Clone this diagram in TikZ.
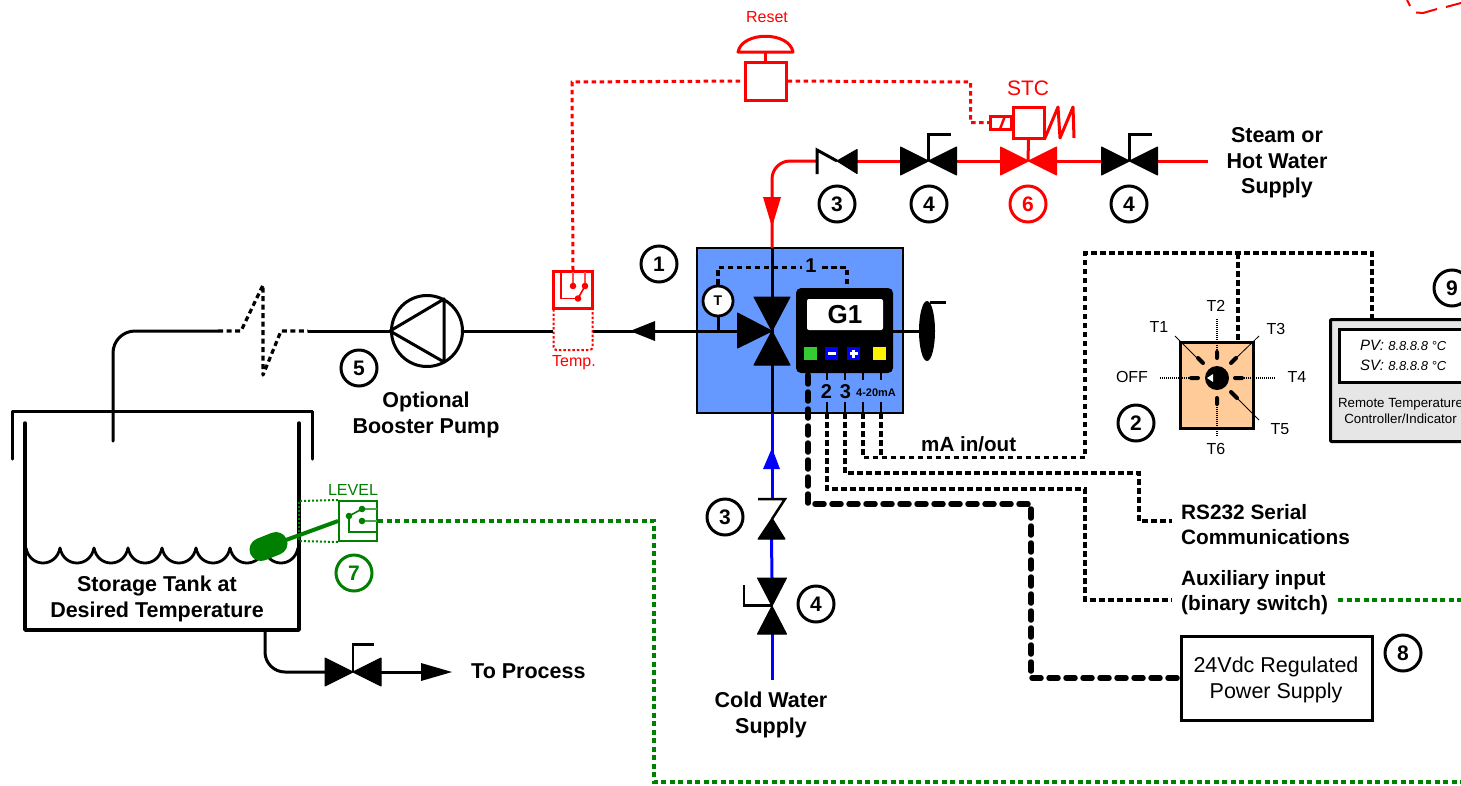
\documentclass[tikz,border=0pt]{standalone}
\usepackage{fontspec}
\setmainfont{Liberation Sans}
\usetikzlibrary{calc}
\definecolor{boxblue}{RGB}{102,153,255}
\definecolor{peach}{RGB}{255,204,153}
\definecolor{lvlgreen}{RGB}{0,128,0}
\definecolor{panelgrey}{RGB}{230,230,230}
\definecolor{btngreen}{RGB}{51,204,51}
\tikzset{
 pipe/.style={line width=3pt,line join=round},
 redpipe/.style={pipe,red},
 bluepipe/.style={pipe,blue},
 wire/.style={line width=3.1pt,dash pattern=on 5.5pt off 3.5pt},
 thickwire/.style={line width=5.5pt,dash pattern=on 9pt off 8pt,line cap=round},
 redwire/.style={line width=3pt,red,dash pattern=on 4.5pt off 3.5pt},
 greenwire/.style={line width=3.1pt,lvlgreen,dash pattern=on 5pt off 3.5pt},
 lab/.style={font=\fontsize{21.5}{25.7}\selectfont\bfseries,align=center,inner sep=0pt},
 leftlab/.style={font=\fontsize{20.8}{25.5}\selectfont\bfseries,inner sep=0pt,align=left},
 small/.style={font=\fontsize{16}{17}\selectfont,inner sep=0pt},
 numc/.style={circle,draw=#1,text=#1,line width=3pt,minimum size=36pt,inner sep=0pt,font=\fontsize{21}{24}\selectfont\bfseries},
 numc/.default=black,
 ray/.style={line width=0.8pt},
 rayd/.style={line width=1.1pt,dash pattern=on 1pt off 1pt},
 tick/.style={line width=4pt,line cap=round},
 btn/.style={minimum width=13pt,minimum height=13pt,inner sep=0pt},
}
\newcommand{\bowH}[5][black]{\path[fill=#1,draw=#1,line width=1pt,line join=round] (#2,#3) -- (#2-#4,#3-#5) -- (#2-#4,#3+#5) -- cycle (#2,#3) -- (#2+#4,#3-#5) -- (#2+#4,#3+#5) -- cycle;}
\newcommand{\bowV}[5][black]{\path[fill=#1,draw=#1,line width=1pt,line join=round] (#2,#3) -- (#2-#4,#3-#5) -- (#2+#4,#3-#5) -- cycle (#2,#3) -- (#2-#4,#3+#5) -- (#2+#4,#3+#5) -- cycle;}
\begin{document}
\begin{tikzpicture}[x=1pt,y=-1pt]
\clip (0,0) rectangle (1461,785);
\fill[white] (0,0) rectangle (1461,785);

% ---------- fragment top right
\draw[red,line width=2pt] (1407,0)--(1410,6) (1416,12.5)--(1423,13)--(1437,9) (1446,7)--(1461,3);

% ---------- storage tank
\draw[pipe,line cap=round] (12,459)--(12,411)--(312,411)--(312,459);
\draw[line width=3.5pt,line join=round,line cap=round] (25,423)--(25,630)--(299,630)--(299,423);
\foreach \x in {26,60,94,128,162,196,230,264}
  \draw[line width=2.8pt,line cap=round] (\x,548) .. controls (\x+4,568) and (\x+30,568) .. (\x+34,548);
\node[lab] (tanklab) at (157,599) {Storage Tank at\\Desired Temperature};

% ---------- pipe to tank
\coordinate (tankin) at (113,441);
\coordinate (brkw) at (218,331);
\coordinate (brke) at (308,331);
\draw[pipe,line cap=round,rounded corners=22pt] (tankin)--(113,331)--(brkw);
\draw[line width=3.2pt,dash pattern=on 5pt off 3.5pt,line join=round] (brkw)--(241,331)--(263,285)--(263,375)--(281,331)--(brke);

% ---------- pump
\node[circle,draw,line width=3pt,minimum size=71pt,inner sep=0pt] (pump) at (427,331) {};
\draw[line width=3pt,line join=round] (pump.west)--(444,299)--(444,362)--cycle;
\draw[pipe] (brke)--(pump.west);
\node[numc] (n5) at (359,368) {5};
\node[lab] (pumplab) at (426,415) {Optional\\Booster Pump};

% ---------- temp switch
\node[draw=red,line width=2.2pt,minimum width=39pt,minimum height=37pt,inner sep=0pt] (tsw) at (573,290) {};
\draw[red,line width=2pt,dash pattern=on 2.5pt off 2pt,rounded corners=3pt] (553.5,309)--(553.5,350)--(592.5,350)--(592.5,309);
\draw[red,line width=1.5pt] (561,272)--(561,298.5)--(578,298.5);
\draw[red!70!white,line width=1.6pt] (573,272)--(573,286) (585,272)--(585,286);
\draw[red,line width=1.6pt] (578,298.5)--(585,286);
\fill[red] (573,286) circle (3.3) (585,286) circle (3.3) (578,298.5) circle (3.3);
\node[small,text=red] (templab) at (574,363) {Temp.};
\draw[pipe] (pump.east)--(553,331);

% ---------- main blue box
\node[draw,fill=boxblue,line width=2pt,minimum width=206pt,minimum height=165pt,inner sep=0pt] (unit) at (800,330.5) {};
\coordinate (mixc) at (772,331);
\draw[pipe] (593,331)--(mixc);
\draw[pipe] (772,248)--(mixc)--(772,413);
\path[fill=black] (630,331)--(655,321)--(655,341)--cycle;
\draw[pipe] (796,331)--(920,331);
% three-way valve
\bowV{772}{331}{18}{34}
\path[fill=black,draw=black,line width=1pt,line join=round] (772,331)--(737.5,313)--(737.5,348)--cycle;
% thermometer
\node[circle,draw,fill=white,line width=2.8pt,minimum size=30pt,inner sep=0pt,font=\fontsize{14}{14}\selectfont\bfseries] (gauge) at (718,301) {T};
\draw[line width=3pt] (gauge.south)--(718,331);
\coordinate (d1a) at (802,267.5);
\coordinate (d1b) at (822,267.5);
\draw[wire] (gauge.north)--(718,267.5)--(d1a);
\node[font=\fontsize{20}{20}\selectfont\bfseries,inner sep=0pt] (one) at (811,266) {1};
\draw[wire] (d1b)--(847,267.5)--(847,288);
% G1
\node[fill=black,rounded corners=5pt,minimum width=97pt,minimum height=85pt,inner sep=0pt] (g1) at (844.5,330.5) {};
\node[fill=white,rounded corners=2pt,minimum width=76pt,minimum height=31pt,inner sep=0pt,font=\fontsize{26}{26}\selectfont\bfseries] (g1disp) at (845,314.5) {G1};
\node[btn,fill=btngreen] (bg) at (810,353.5) {};
\node[btn,fill=blue] (bm) at (831.5,353.5) {};
\node[btn,fill=blue] (bp) at (853.5,353.5) {};
\node[btn,fill=yellow] (by) at (879.5,353.5) {};
\draw[white,line width=2.2pt] (bm.center)+(-4,0)--+(4,0);
\draw[white,line width=2.2pt] (bp.center)+(-4,0)--+(4,0) (bp.center)+(0,-4)--+(0,4);
% terminals
\draw[line width=2.6pt] (827,373)--(827,380) (845,373)--(845,380) (863,373)--(863,380) (881,373)--(881,380);
\draw[line width=2.6pt] (827,402)--(827,413) (845,402)--(845,413) (863,402)--(863,413) (881,402)--(881,413);
\node[font=\fontsize{20}{20}\selectfont\bfseries,inner sep=0pt] (t2) at (826.5,392) {2};
\node[font=\fontsize{20}{20}\selectfont\bfseries,inner sep=0pt] (t3) at (845.5,392) {3};
\node[font=\fontsize{11}{11}\selectfont\bfseries,inner sep=0pt] (t4) at (876,393) {4-20mA};
% damper / actuator
\path[fill=black] (927,331) ellipse (8 and 30);
\draw[line width=3pt] (930,302)--(946,302);
\node[numc] (n1) at (659,264) {1};

% ---------- wiring
\node[draw,line width=3pt,minimum width=191pt,minimum height=84pt,inner sep=0pt] (psu) at (1276.5,678) {};
\node[font=\fontsize{21.5}{26}\selectfont,inner sep=0pt,align=center] (psulab) at (1276,679.5) {24Vdc Regulated\\Power Supply};
\draw[thickwire] (808,375)--(808,504)--(1031,504)--(1031,678)--(psu.west);
\coordinate (auxin) at (1172,600);
\coordinate (rsin) at (1172,521);
\draw[wire] (827,413)--(827,489)--(1085,489)--(1085,600)--(auxin);
\draw[wire] (845,413)--(845,473)--(1139,473)--(1139,521)--(rsin);
\draw[wire] (863,413)--(863,457.5)--(1085,457.5)--(1085,253)--(1372,253)--(1372,318);
\draw[wire] (881,413)--(881,457.5);
\draw[wire] (1238,253)--(1238,342);
\node[font=\fontsize{20.6}{25}\selectfont\bfseries,inner sep=0pt,anchor=west] (malab) at (921,444) {mA in/out};
\node[leftlab,anchor=north west] (rslab) at (1181,504) {RS232 Serial\\Communications};
\node[leftlab,anchor=north west] (auxlab) at (1181,570) {Auxiliary input\\(binary switch)};
\node[numc] (n8) at (1403,653) {8};

% ---------- selector switch
\node[draw,fill=peach,line width=3pt,minimum width=73pt,minimum height=86pt,inner sep=0pt] (sel) at (1216.5,385) {};
\draw[ray] (1175,336)--(1200,361) (1259,336)--(1233,361) (1233,394)--(1259,420);
\draw[rayd] (1217,319)--(1217,351) (1217,405)--(1217,437) (1160,378)--(1195,378) (1240,378)--(1276,378);
\draw[tick] (1217,352)--(1217,358) (1217,398)--(1217,404) (1235,378)--(1242,378) (1191,378)--(1198,378)
  (1198,358)--(1203,363) (1236,358)--(1231,363) (1231,392)--(1237,398);
\node[circle,fill=black,minimum size=24pt,inner sep=0pt] (knob) at (1217,378) {};
\path[fill=white] (1207,378)--(1213,374)--(1213,382)--cycle;
\node[small] (lt1) at (1159,327) {T1};
\node[small] (lt2) at (1216,306) {T2};
\node[small] (lt3) at (1276,329) {T3};
\node[small] (lt4) at (1297,377) {T4};
\node[small] (lt5) at (1280,429) {T5};
\node[small] (lt6) at (1216,449) {T6};
\node[small] (loff) at (1132,377) {OFF};
\node[numc] (n2) at (1136,423) {2};

% ---------- remote controller
\node[draw,fill=panelgrey,line width=3pt,rounded corners=1pt,anchor=north west,minimum width=160pt,minimum height=122pt,inner sep=0pt] (remote) at (1329,318) {};
\node[draw,fill=white,line width=3pt,anchor=north west,minimum width=150pt,minimum height=53pt,inner sep=0pt] (rdisp) at (1338,328) {};
\node[anchor=west,inner sep=0pt,font=\fontsize{15}{15}\selectfont\itshape] (pv) at (1360,345) {PV: {\fontsize{13}{14}\selectfont 8.8.8.8 °C}};
\node[anchor=west,inner sep=0pt,font=\fontsize{15}{15}\selectfont\itshape] (sv) at (1360,365) {SV: {\fontsize{13}{14}\selectfont 8.8.8.8 °C}};
\node[inner sep=0pt,align=center,font=\fontsize{13.3}{15.5}\selectfont] (remlab) at (1400.5,411) {Remote Temperature\\Controller/Indicator};
\node[numc,fill=white] (n9) at (1452,288) {9};

% ---------- reset + solenoid (red)
\node[small,text=red] (resetlab) at (767,17) {Reset};
\node[draw=red,line width=3pt,minimum width=41pt,minimum height=38pt,inner sep=0pt] (reset) at (765.5,81) {};
\draw[red,line width=3pt,line join=round] (738,52) .. controls (742,31) and (789,31) .. (793,52) -- cycle;
\draw[red,line width=3pt] (765.5,52)--(reset.north);
\draw[redwire] (tsw.north)--(572,82)--(reset.west);
\node[draw=red,line width=3pt,minimum width=31pt,minimum height=31pt,inner sep=0pt] (sol) at (1028.5,122.5) {};
\node[draw=red,line width=3pt,minimum width=21pt,minimum height=13pt,inner sep=0pt,anchor=east] (coil) at (1013,122.5) {};
\draw[red,line width=2.4pt] (1000,129)--(1005,116);
\draw[redwire] (reset.east)--(970.5,82)--(970.5,122.5)--(coil.west);
\draw[red,line width=3pt,line join=round] (1045,138)--(1058,107)--(1060,138)--(1073,107)--(1074,138);
\node[font=\fontsize{21}{21}\selectfont,text=red,inner sep=0pt] (stc) at (1028,88) {STC};
\draw[red,line width=3pt] (sol.south)--(1028,161);

% ---------- steam line
\coordinate (chkw) at (817,161);
\coordinate (chke) at (857,161);
\coordinate (v4aw) at (900,161);
\coordinate (v4ae) at (957,161);
\coordinate (v6w) at (1000,161);
\coordinate (v6e) at (1057,161);
\coordinate (v4bw) at (1101,161);
\coordinate (v4be) at (1158,161);
\coordinate (steamend) at (1208,161);
\draw[redpipe,rounded corners=18pt] (772,248)--(772,161)--(chkw);
\draw[redpipe] (chke)--(v4aw) (v4ae)--(v6w) (v6e)--(v4bw) (v4be)--(steamend);
\path[fill=red] (772,227)--(763,197)--(781,197)--cycle;
% check valve
\draw[line width=3pt,line join=miter] (817,174)--(817,150)--(837,161);
\path[fill=black,draw=black,line width=1pt,line join=round] (837,161)--(857,149.5)--(857,173.5)--cycle;
% globe valves
\bowH{928.5}{161}{28}{14}
\draw[line width=2.5pt] (928.5,161)--(928.5,134.5)--(951,134.5);
\bowH[red]{1028.5}{161}{28}{14}
\bowH{1129.5}{161}{28}{14}
\draw[line width=2.5pt] (1129.5,161)--(1129.5,134.5)--(1152,134.5);
\node[numc] (n3a) at (837,204) {3};
\node[numc] (n4a) at (929,204) {4};
\node[numc=red] (n6) at (1028,204) {6};
\node[numc] (n4b) at (1129,204) {4};
\node[lab] (steamlab) at (1277,163) {Steam or\\Hot Water\\Supply};

% ---------- cold water line
\draw[bluepipe] (772,413)--(772,499);
\draw[bluepipe] (771.5,539)--(772,578);
\draw[bluepipe] (772,634)--(772,680);
\path[fill=blue] (772,448)--(763,469)--(780,469)--cycle;
\draw[line width=2.5pt,line join=miter] (758,499)--(785,499)--(772,519);
\path[fill=black,draw=black,line width=1pt,line join=round] (772,518)--(758,539)--(785,539)--cycle;
\bowV{772}{606}{14.5}{28}
\draw[line width=2.5pt] (772,605.5)--(744,605.5)--(744,585);
\node[numc] (n3b) at (725,517) {3};
\node[numc] (n4c) at (816,604) {4};
\node[lab] (coldlab) at (771,715) {Cold Water\\Supply};

% ---------- outlet
\draw[pipe,rounded corners=20pt] (265,630)--(265,672)--(325,672);
\bowH{353}{672}{28}{14}
\draw[line width=2.5pt] (353,672)--(353,644.5)--(374,644.5);
\draw[pipe] (381,672)--(425,672);
\path[fill=black] (452,672)--(421,663)--(421,681)--cycle;
\node[lab,anchor=west] (proclab) at (471,671.5) {To Process};

% ---------- level switch
\node[draw=lvlgreen,line width=2pt,minimum width=38pt,minimum height=40pt,inner sep=0pt] (lvl) at (358,521) {};
\draw[lvlgreen,line width=2pt,dash pattern=on 2pt off 2pt] (lvl.north west)--(299,501)--(299,541)--(lvl.south west);
\draw[lvlgreen,line width=4pt] (lvl.west)--(275,544);
\draw[lvlgreen,line width=23pt,line cap=round] (261,549.5)--(276,543.5);
\draw[lvlgreen,line width=1.5pt] (349,516)--(349,532)--(377,532);
\draw[lvlgreen!70!white,line width=1.6pt] (362,509)--(377,509) (362,521)--(377,521);
\draw[lvlgreen,line width=1.6pt] (349,516)--(362,509);
\fill[lvlgreen] (349,516) circle (3.3) (362,509) circle (3.3) (362,521) circle (3.3);
\node[small,text=lvlgreen] (lvllab) at (353,490) {LEVEL};
\node[numc=lvlgreen] (n7) at (354,573) {7};
\coordinate (auxout) at (1338,600);
\coordinate (gr1) at (1461,782);
\coordinate (gr2) at (1461,600);
\draw[greenwire] (lvl.east)--(654,521)--(654,782)--(gr1);
\draw[greenwire] (auxout)--(gr2);
\end{tikzpicture}
\end{document}
